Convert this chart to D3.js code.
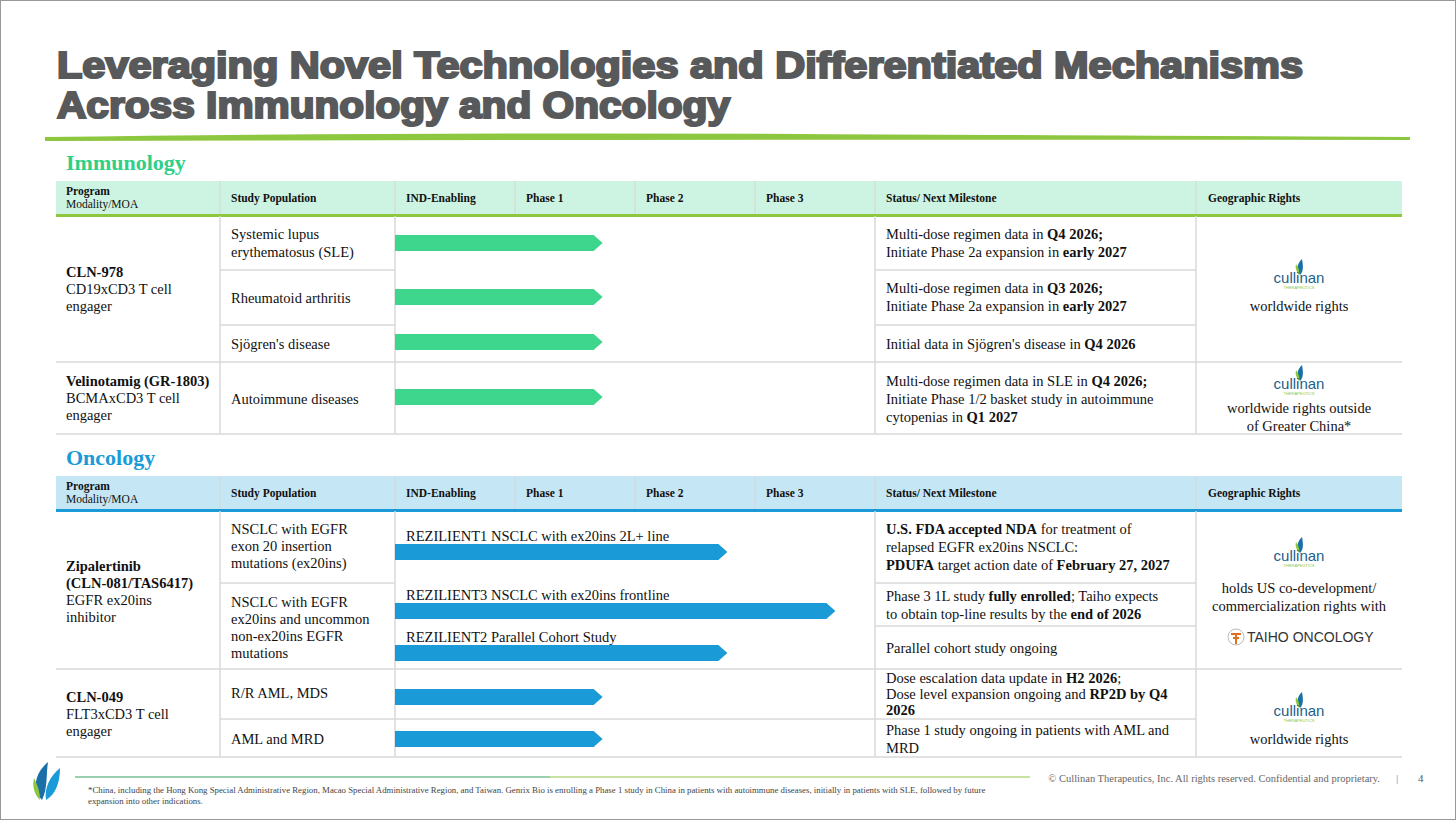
<!DOCTYPE html>
<html><head><meta charset="utf-8">
<script src="https://cdn.jsdelivr.net/npm/d3@7"></script>
<style>body{margin:0;background:#fff}svg{display:block}</style>
</head><body><svg id="c" width="1456" height="820"></svg>
<script>
const phases = ["IND-Enabling","Phase 1","Phase 2","Phase 3"];
const headers = ["Study Population","Status/ Next Milestone","Geographic Rights"];
// bar ends measured in phase units (0..4)
const immBars = [
  {pop:"SLE", end:1.73},
  {pop:"RA", end:1.73},
  {pop:"Sjogren", end:1.73},
  {pop:"Autoimmune", end:1.73}
];
const oncBars = [
  {label:"REZILIENT1 NSCLC with ex20ins 2L+ line", end:2.77},
  {label:"REZILIENT3 NSCLC with ex20ins frontline", end:3.67},
  {label:"REZILIENT2 Parallel Cohort Study", end:2.77},
  {label:"", end:1.73},
  {label:"", end:1.73}
];

const svg = d3.select("#c");
const F = "Liberation Serif, Times New Roman, serif";
svg.append("rect").attr("x",0.5).attr("y",0.5).attr("width",1455).attr("height",819).attr("fill","#fff").attr("stroke","#999");

// title
const tt = svg.append("text").attr("font-family","Liberation Sans, Arial, sans-serif").attr("font-weight","bold")
  .attr("font-size",36).attr("fill","#58595b").attr("stroke","#58595b").attr("stroke-width",2.2);
tt.append("tspan").attr("x",57).attr("y",78).attr("textLength",1246).attr("lengthAdjust","spacingAndGlyphs").text("Leveraging Novel Technologies and Differentiated Mechanisms");
tt.append("tspan").attr("x",57).attr("y",118).attr("textLength",673).attr("lengthAdjust","spacingAndGlyphs").text("Across Immunology and Oncology");
svg.append("path").attr("d","M45,137 Q400,132 800,134 T1410,137 L1410,140 Q800,139 45,141 Z").attr("fill","#8dc63f");

const colX = [56,220,395,515,635,755,875,1196,1402];
const x = d3.scaleLinear().domain([0,4]).range([395,875]);

function rich(g, xx, y, lines, opts={}) {
  const t = g.append("text").attr("font-family",F).attr("font-size",opts.size||14.5).attr("fill","#111")
    .attr("text-anchor",opts.anchor||"start");
  lines.forEach((ln,i)=>{
    const segs = typeof ln==="string"?[[ln,false]]:ln;
    segs.forEach((s,j)=>{
      const ts = t.append("tspan").text(s[0]).attr("font-weight",s[1]?"bold":"normal");
      if(j===0) ts.attr("x",xx).attr("y",y+i*(opts.lh||18));
    });
  });
  return t;
}

function header(y, fill, line, title, tcolor){
  svg.append("text").attr("x",66).attr("y",y-11).attr("font-family",F).attr("font-weight","bold")
    .attr("font-size",22).attr("fill",tcolor).text(title);
  svg.append("rect").attr("x",56).attr("y",y).attr("width",1346).attr("height",35).attr("fill",fill);
  colX.slice(1,8).forEach(cx=>svg.append("line").attr("x1",cx).attr("x2",cx).attr("y1",y).attr("y2",y+35).attr("stroke","#d6d6d6"));
  svg.append("rect").attr("x",56).attr("y",y+33).attr("width",1346).attr("height",3).attr("fill",line);
  const g = svg.append("g");
  rich(g,66,y+14,[[["Program",true]]],{size:11.5});
  rich(g,66,y+27,["Modality/MOA"],{size:11.5});
  rich(g,231,y+21,[[["Study Population",true]]],{size:11.5});
  phases.forEach((p,i)=>rich(g,x(i)+11,y+21,[[[p,true]]],{size:11.5}));
  rich(g,886,y+21,[[["Status/ Next Milestone",true]]],{size:11.5});
  rich(g,1208,y+21,[[["Geographic Rights",true]]],{size:11.5});
}

function hline(x1,x2,y){svg.append("line").attr("x1",x1).attr("x2",x2).attr("y1",y).attr("y2",y).attr("stroke","#d9d9d9").attr("stroke-width",1.5);}
function vline(xx,y1,y2){svg.append("line").attr("x1",xx).attr("x2",xx).attr("y1",y1).attr("y2",y2).attr("stroke","#d9d9d9").attr("stroke-width",1.5);}

function bar(yc, end, color){
  const x0=x(0), x1=x(end), h=16;
  svg.append("path").attr("d",`M${x0},${yc-h/2} L${x1-9},${yc-h/2} L${x1},${yc} L${x1-9},${yc+h/2} L${x0},${yc+h/2} Z`).attr("fill",color);
}

function cullinan(cx, cy){
  const g=svg.append("g").attr("transform",`translate(${cx},${cy})`);
  g.append("path").attr("d","M1,-2 C-4,-8 -1,-14 3,-18 C4,-12 5,-6 1,-2Z").attr("fill","#1a6fa8");
  g.append("path").attr("d","M0,-2 C-3,-6 -4,-10 -3,-13 C0,-9 1,-5 0,-2Z").attr("fill","#8dc63f");
  g.append("text").attr("y",6).attr("text-anchor","middle").attr("font-family","Liberation Sans, Arial").attr("font-size",15).attr("fill","#1d5f8a").text("cullinan");
  g.append("text").attr("y",12).attr("text-anchor","middle").attr("font-family","Liberation Sans, Arial").attr("font-size",4).attr("fill","#8dc63f").text("THERAPEUTICS");
}

// ---------- Immunology ----------
header(181,"#cdf3e2","#8dc63f","Immunology","#2fcf86");
const ig="#3dd68c";
hline(220,395,270);hline(875,1196,270);
hline(220,395,325);hline(875,1196,325);
hline(56,1402,362);hline(56,1402,434);
[220,395,875,1196].forEach(v=>vline(v,216,434));
const g1=svg.append("g");
rich(g1,66,277,[[["CLN-978",true]],"CD19xCD3 T cell","engager"],{lh:17});
rich(g1,231,239,["Systemic lupus","erythematosus (SLE)"]);
rich(g1,231,303,["Rheumatoid arthritis"]);
rich(g1,231,349,["Sjögren's disease"]);
rich(g1,66,386,[[["Velinotamig (GR-1803)",true]],"BCMAxCD3 T cell","engager"],{lh:17});
rich(g1,231,404,["Autoimmune diseases"]);
[243,297,342,397].forEach((yc,i)=>bar(yc,immBars[i].end,ig));
rich(g1,886,239,[[["Multi-dose regimen data in ",false],["Q4 2026;",true]],[["Initiate Phase 2a expansion in ",false],["early 2027",true]]]);
rich(g1,886,293,[[["Multi-dose regimen data in ",false],["Q3 2026;",true]],[["Initiate Phase 2a expansion in ",false],["early 2027",true]]]);
rich(g1,886,349,[[["Initial data in Sjögren's disease in ",false],["Q4 2026",true]]]);
rich(g1,886,386,[[["Multi-dose regimen data in SLE in ",false],["Q4 2026;",true]],"Initiate Phase 1/2 basket study in autoimmune",[["cytopenias in ",false],["Q1 2027",true]]]);
cullinan(1299,277);
rich(g1,1299,311,["worldwide rights"],{anchor:"middle"});
cullinan(1299,383);
rich(g1,1299,413,["worldwide rights outside","of Greater China*"],{anchor:"middle"});

// ---------- Oncology ----------
header(476,"#c5e6f5","#1a9bd7","Oncology","#1a9bd7");
const ob="#1a9bd7";
hline(220,395,583);hline(875,1196,583);hline(875,1196,626);
hline(56,1402,669);hline(220,1196,719);hline(56,1402,757);
[220,395,875,1196].forEach(v=>vline(v,511,757));
const g2=svg.append("g");
rich(g2,66,571,[[["Zipalertinib",true]],[["(CLN-081/TAS6417)",true]],"EGFR ex20ins","inhibitor"],{lh:17});
rich(g2,231,534,["NSCLC with EGFR","exon 20 insertion","mutations (ex20ins)"],{lh:17});
rich(g2,231,607,["NSCLC with EGFR","ex20ins and uncommon","non-ex20ins EGFR","mutations"],{lh:17});
rich(g2,66,702,[[["CLN-049",true]],"FLT3xCD3 T cell","engager"],{lh:17});
rich(g2,231,698,["R/R AML, MDS"]);
rich(g2,231,744,["AML and MRD"]);
[552,611,653,697,739].forEach((yc,i)=>{
  bar(yc,oncBars[i].end,ob);
  if(oncBars[i].label) rich(g2,406,yc-11,[oncBars[i].label]);
});
rich(g2,886,534,[[["U.S. FDA accepted NDA",true],[" for treatment of",false]],"relapsed EGFR ex20ins NSCLC:",[["PDUFA",true],[" target action date of ",false],["February 27, 2027",true]]]);
rich(g2,886,601,[[["Phase 3 1L study ",false],["fully enrolled",true],["; Taiho expects",false]],[["to obtain top-line results by the ",false],["end of 2026",true]]]);
rich(g2,886,653,["Parallel cohort study ongoing"]);
rich(g2,886,683,[[["Dose escalation data update in ",false],["H2 2026",true],[";",false]],[["Dose level expansion ongoing and ",false],["RP2D by Q4",true]],[["2026",true]]],{lh:16});
rich(g2,886,735,["Phase 1 study ongoing in patients with AML and","MRD"],{lh:18});
cullinan(1299,555);
rich(g2,1299,593,["holds US co-development/","commercialization rights with"],{anchor:"middle"});
const tg=svg.append("g").attr("transform","translate(1236,637)");
tg.append("circle").attr("r",8).attr("fill","#fff").attr("stroke","#bbb");
tg.append("path").attr("d","M-5,-3 L5,-3 M0,-3 L0,7 M-3,1 L3,1").attr("stroke","#e36f1e").attr("stroke-width",2);
svg.append("text").attr("x",1247).attr("y",642).attr("font-family","Liberation Sans, Arial").attr("font-size",14).attr("fill","#333").text("TAIHO ONCOLOGY");
cullinan(1299,710);
rich(g2,1299,744,["worldwide rights"],{anchor:"middle"});

// ---------- footer ----------
const lg=svg.append("g").attr("transform","translate(30,760)");
lg.append("path").attr("d","M12,40 C2,30 4,14 18,2 C16,14 18,28 12,40Z").attr("fill","#1a6fa8");
lg.append("path").attr("d","M16,40 C14,28 20,16 30,8 C30,22 26,34 16,40Z").attr("fill","#1a9bd7");
lg.append("path").attr("d","M10,40 C4,34 2,26 4,18 C8,26 10,32 10,40Z").attr("fill","#8dc63f");
svg.append("line").attr("x1",75).attr("x2",1030).attr("y1",777).attr("y2",777).attr("stroke","#8dc63f").attr("stroke-width",1);
svg.append("line").attr("x1",75).attr("x2",550).attr("y1",777).attr("y2",777).attr("stroke","#1a9bd7").attr("stroke-width",1).attr("opacity",0.5);
rich(svg,88,793,["*China, including the Hong Kong Special Administrative Region, Macao Special Administrative Region, and Taiwan. Genrix Bio is enrolling a Phase 1 study in China in patients with autoimmune diseases, initially in patients with SLE, followed by future","expansion into other indications."],{size:8.8,lh:11}).attr("fill","#444");
rich(svg,1380,782,["© Cullinan Therapeutics, Inc. All rights reserved. Confidential and proprietary."],{size:10.5,anchor:"end"}).attr("fill","#666");
svg.append("text").attr("x",1396).attr("y",782).attr("font-size",11).attr("fill","#1a9bd7").attr("font-family",F).text("|");
svg.append("text").attr("x",1418).attr("y",782).attr("font-size",11).attr("fill","#555").attr("font-family",F).text("4");
</script></body></html>
